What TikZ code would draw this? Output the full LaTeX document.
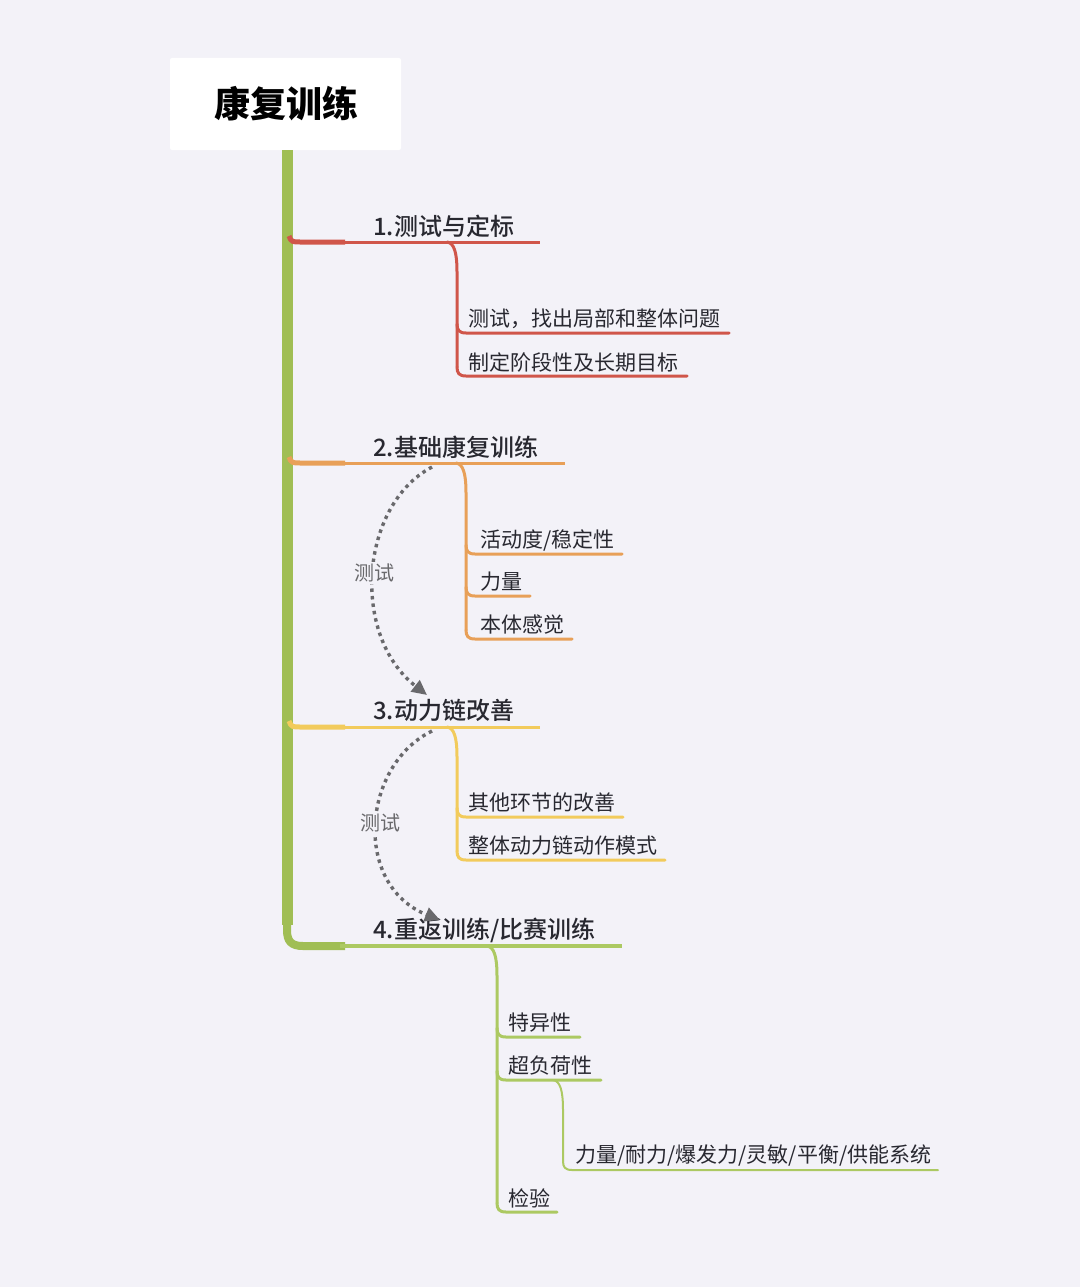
\documentclass[tikz,border=0pt]{standalone}
\usepackage{fontspec}
\setmainfont{Noto Sans CJK SC}
\newfontfamily\medfont{Noto Sans CJK SC}[UprightFont={* Medium}]
\usetikzlibrary{arrows.meta}
\definecolor{bg}{RGB}{243,242,248}
\definecolor{cred}{RGB}{208,86,74}
\definecolor{corange}{RGB}{232,160,88}
\definecolor{cyellow}{RGB}{242,203,92}
\definecolor{ctrunk}{RGB}{160,190,84}
\definecolor{cgreen}{RGB}{172,201,98}
\definecolor{ctext}{RGB}{40,40,48}
\definecolor{cdash}{RGB}{105,105,108}
\tikzset{
  head/.style={anchor=west,inner sep=0pt,font=\fontsize{24}{24}\selectfont\medfont,text=ctext},
  kidtext/.style={anchor=west,inner sep=0pt,font=\fontsize{21}{21}\selectfont,text=ctext},
  testlbl/.style={fill=bg,inner sep=2pt,font=\fontsize{20}{20}\selectfont,text=cdash},
  testarrow/.style={draw=cdash,line width=3.4pt,dash pattern=on 3.5pt off 4pt,
     -{Triangle[length=15pt,width=14pt,fill=cdash]}},
}
% #1 colour, #2 stem x, #3 line y, #4 end x, #5 width
\newcommand\kidbranch[5]{%
  \draw[#1,line width=#5,line cap=round] ({#2},{#3-9}) .. controls ({#2},{#3-3}) and ({#2+2},{#3}) .. ({#2+9},{#3}) -- ({#4},{#3});}
% #1 colour, #2 start x, #3 start y, #4 last y, #5 width
\newcommand\stembranch[5]{%
  \draw[#1,line width=#5,line cap=round] ({#2},{#3}) .. controls ({#2+7},{#3+1}) and ({#2+10},{#3+10}) .. ({#2+10},{#3+30}) -- ({#2+10},{#4-9});}
\begin{document}
\begin{tikzpicture}[x=1pt,y=-1pt]
\fill[bg] (0,0) rectangle (1080,1287);
\useasboundingbox (0,0) rectangle (1080,1287);

% title
\fill[white,rounded corners=2pt] (170,58) rectangle (401,150);
\node[inner sep=0pt,font=\fontsize{36}{36}\selectfont\bfseries,text=black] (title) at (286,104) {康复训练};

% trunk
\coordinate (trunktop) at (287,150);
\coordinate (trunkbot) at (287,925);
\draw[ctrunk,line width=11pt] (trunktop) -- (trunkbot);
\draw[ctrunk,line width=8pt] (287,915) -- (287,930) .. controls (287,941) and (291,946) .. (303,946) -- (345,946);

% ---------- branch 1 ----------
\draw[cred,line width=5pt] (289,236) .. controls (291,242) and (293,242) .. (300,242) -- (345,242);
\draw[cred,line width=3pt] (340,242) -- (540,242);
\node[head] (h1) at (373,226) {1.测试与定标};
\stembranch{cred}{447}{242}{376}{3pt}
\kidbranch{cred}{457}{333}{729}{3pt}
\kidbranch{cred}{457}{376}{687}{3pt}
\node[kidtext] (c11) at (468,319) {测试，找出局部和整体问题};
\node[kidtext] (c12) at (468,362) {制定阶段性及长期目标};

% ---------- branch 2 ----------
\draw[corange,line width=5pt] (289,457) .. controls (291,463) and (293,463) .. (300,463) -- (345,463);
\draw[corange,line width=3pt] (340,463) -- (565,463);
\node[head] (h2) at (373,447) {2.基础康复训练};
\stembranch{corange}{456}{463}{639}{3pt}
\kidbranch{corange}{466}{554}{622}{3pt}
\kidbranch{corange}{466}{596}{530}{3pt}
\kidbranch{corange}{466}{639}{572}{3pt}
\node[kidtext] (c21) at (480,540) {活动度/稳定性};
\node[kidtext] (c22) at (480,582) {力量};
\node[kidtext] (c23) at (480,625) {本体感觉};

% ---------- branch 3 ----------
\draw[cyellow,line width=5pt] (289,721) .. controls (291,727) and (293,727) .. (300,727) -- (345,727);
\draw[cyellow,line width=3pt] (340,727) -- (540,727);
\node[head] (h3) at (373,710) {3.动力链改善};
\stembranch{cyellow}{447}{727}{860}{3pt}
\kidbranch{cyellow}{457}{817}{623}{3pt}
\kidbranch{cyellow}{457}{860}{665}{3pt}
\node[kidtext] (c31) at (468,803) {其他环节的改善};
\node[kidtext] (c32) at (468,846) {整体动力链动作模式};

% ---------- branch 4 ----------
\draw[cgreen,line width=3.5pt] (340,946) -- (622,946);
\node[head] (h4) at (373,930) {4.重返训练/比赛训练};
\stembranch{cgreen}{487}{946}{1212}{3pt}
\kidbranch{cgreen}{497}{1037}{580}{3pt}
\kidbranch{cgreen}{497}{1080}{601}{3pt}
\kidbranch{cgreen}{497}{1212}{557}{3pt}
\node[kidtext] (c41) at (508,1023) {特异性};
\node[kidtext] (c42) at (508,1066) {超负荷性};
\node[kidtext] (c44) at (508,1198) {检验};
\stembranch{cgreen}{553}{1080}{1170}{2pt}
\kidbranch{cgreen}{563}{1170}{938}{2pt}
\node[kidtext] (c43) at (575,1156) {力量/耐力/爆发力/灵敏/平衡/供能系统};

% ---------- test arrows ----------
\coordinate (a1s) at (432,467);
\coordinate (a1e) at (427,695);
\draw[testarrow] (a1s) .. controls (360,505) and (350,635) .. (a1e);
\node[testlbl] (t1) at (374,573) {测试};
\coordinate (a2s) at (432,731);
\coordinate (a2e) at (440,920);
\draw[testarrow] (a2s) .. controls (362,765) and (352,885) .. (a2e);
\node[testlbl] (t2) at (380,823) {测试};
\end{tikzpicture}
\end{document}
